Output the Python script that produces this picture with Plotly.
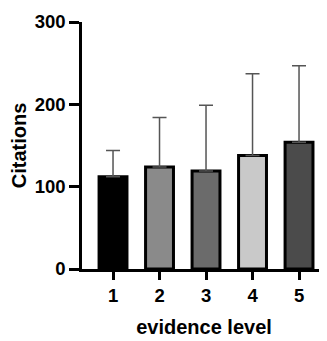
import plotly.graph_objects as go

categories = ["1", "2", "3", "4", "5"]
means = [112, 124, 119, 138, 154]
err_plus = [32, 60, 80, 99, 93]
bar_colors = ["#000000", "#8a8a8a", "#6b6b6b", "#c9c9c9", "#4b4b4b"]
y_ticks = [0, 100, 200, 300]

fig = go.Figure(
    go.Bar(
        x=categories,
        y=means,
        width=0.6,
        marker=dict(color=bar_colors, line=dict(color="#000000", width=3)),
        error_y=dict(
            type="data",
            array=err_plus,
            arrayminus=[0] * len(err_plus),
            symmetric=False,
            color="#555555",
            thickness=1.5,
            width=7,
        ),
    )
)

FAMILY = "Liberation Sans"
tick_font = dict(family=FAMILY, size=18.5, color="#000000", weight=700)
title_font = dict(family=FAMILY, size=20, color="#000000", weight=700)

# page body has an 8px default margin; figure is sized/offset to compensate
fig.update_layout(
    width=319,
    height=333,
    margin=dict(l=74, r=1, t=14, b=72),
    plot_bgcolor="white",
    paper_bgcolor="white",
    showlegend=False,
    font=tick_font,
)

fig.update_xaxes(
    type="category",
    range=[-0.667, 4.58],
    tickvals=categories,
    ticktext=[f"<b>{c}</b>" for c in categories],
    showline=True,
    linecolor="#000000",
    linewidth=2.5,
    ticks="outside",
    ticklen=8,
    tickwidth=2.5,
    tickcolor="#000000",
    tickfont=tick_font,
    showgrid=False,
    zeroline=False,
    automargin=False,
    title=dict(text="<b>evidence level</b>", font=title_font, standoff=16),
)

fig.update_yaxes(
    range=[0, 300],
    tickvals=y_ticks,
    ticktext=[f"<b>{t}</b>" for t in y_ticks],
    showline=True,
    linecolor="#000000",
    linewidth=2.5,
    ticks="outside",
    ticklen=10,
    tickwidth=2.5,
    tickcolor="#000000",
    tickfont=tick_font,
    showgrid=False,
    zeroline=False,
    automargin=False,
    title=dict(text="<b>Citations</b>", font=title_font, standoff=10),
)

fig.write_html("out.html")
